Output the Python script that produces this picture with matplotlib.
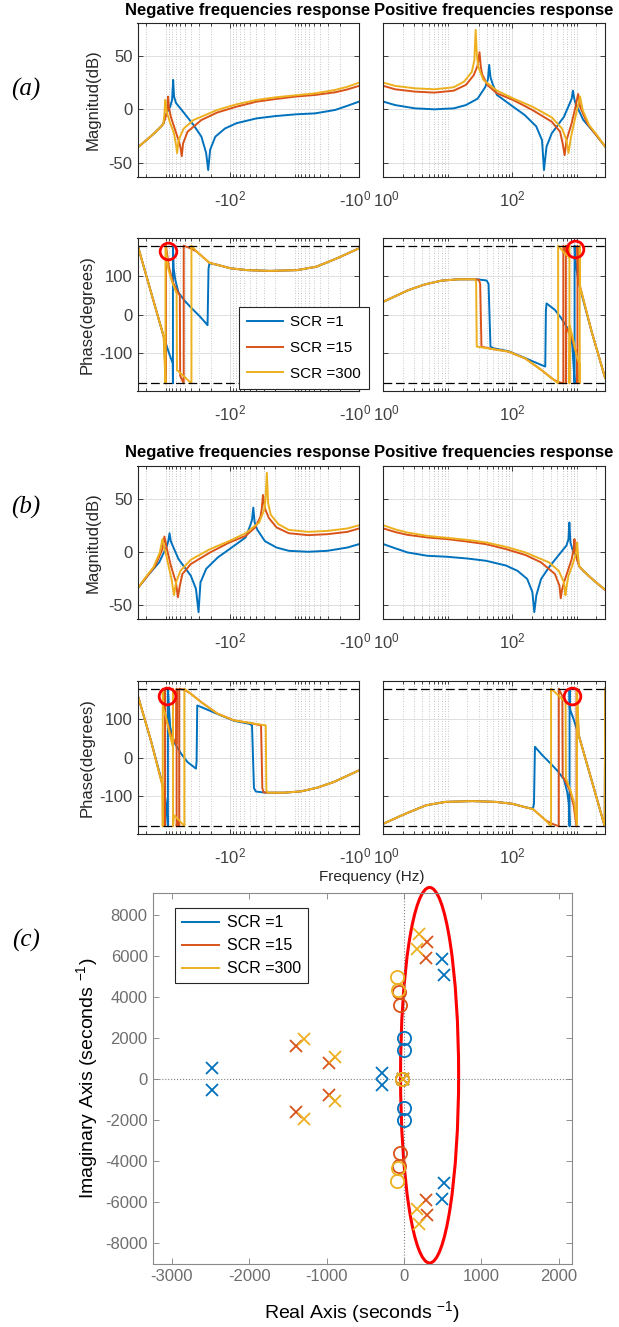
import numpy as np
import matplotlib
matplotlib.use('Agg')
import matplotlib.pyplot as plt
from matplotlib.patches import Ellipse
from matplotlib.ticker import LogLocator, NullFormatter
from matplotlib.transforms import ScaledTranslation

plt.rcParams['font.family'] = ['Liberation Sans', 'DejaVu Sans']
plt.rcParams['mathtext.fontset'] = 'custom'
plt.rcParams['mathtext.rm'] = 'Liberation Sans'
plt.rcParams['mathtext.it'] = 'Liberation Sans:italic'
plt.rcParams['mathtext.bf'] = 'Liberation Sans:bold'
plt.rcParams['axes.unicode_minus'] = False

labels = ['SCR =1', 'SCR =15', 'SCR =300']
colors = ['#0072BD', '#D95319', '#EDB120']

# ---------------- case (a) magnitude, x = log10(|f| / Hz) ----------------
# negative frequencies (left panel)
mag_neg_lf_1 = [3.44, 3.30, 3.18, 3.085, 3.037, 3.0, 2.93, 2.90, 2.884, 2.87, 2.84, 2.78, 2.69, 2.567,
                2.445, 2.372, 2.34, 2.31, 2.23, 2.08, 1.90, 1.59, 1.29, 0.98, 0.68, 0.37, 0.19, 0.0]
mag_neg_db_1 = [-36, -29, -22.6, -17, -13.8, -5.3, 2.5, 9, 27.6, 12, 6, 1.5, -5.3, -14.7,
                -25.7, -41, -57, -38, -25.7, -18, -13, -8.5, -6.3, -4.7, -3.8, -0.6, 3.1, 7.2]
mag_neg_lf_15 = [3.44, 3.30, 3.18, 3.085, 3.037, 3.006, 2.975, 2.963, 2.95, 2.92, 2.86, 2.80, 2.77,
                 2.75, 2.73, 2.66, 2.445, 2.20, 1.90, 1.59, 1.29, 0.98, 0.68, 0.37, 0.19, 0.0]
mag_neg_db_15 = [-36, -29, -22.6, -17, -13.8, -8, -1, 12, 2, -7, -18, -29, -36,
                 -44, -32, -21, -10, -3, 2.5, 7.2, 9.7, 12, 13.5, 16, 18.5, 22]
mag_neg_lf_300 = [3.44, 3.30, 3.18, 3.085, 3.037, 3.02, 3.006, 2.99, 2.976, 2.93, 2.87, 2.835, 2.823,
                  2.80, 2.72, 2.567, 2.20, 1.90, 1.59, 1.29, 0.98, 0.68, 0.37, 0.19, 0.0]
mag_neg_db_300 = [-36, -29, -22.6, -17, -13.8, -5, 8.8, 0, -3.8, -13, -22.6, -35, -41,
                  -29, -18, -10, -0.6, 4.7, 8.8, 11.3, 13.2, 15, 18.2, 21, 25]
# positive frequencies (right panel)
mag_pos_lf_1 = [0.0, 0.18, 0.49, 0.79, 1.09, 1.28, 1.46, 1.58, 1.62, 1.64, 1.66, 1.69, 1.76, 2.01, 2.19,
                2.37, 2.46, 2.49, 2.53, 2.61, 2.80, 2.89, 2.92, 2.94, 2.96, 2.98, 3.10, 3.28, 3.44]
mag_pos_db_1 = [7.2, 4, 0.9, 0, 0.9, 4, 10, 21, 28, 41.7, 30, 24.5, 13.5, 2.5, -5.3,
                -16, -29, -57, -35, -22.6, -7, 5.6, 10, 17.5, 10, 5.6, -10, -22.6, -35]
mag_pos_lf_15 = [0.0, 0.18, 0.49, 0.79, 1.09, 1.28, 1.40, 1.46, 1.49, 1.51, 1.53, 1.61, 1.76, 2.01,
                 2.31, 2.61, 2.74, 2.78, 2.81, 2.84, 2.92, 2.98, 3.02, 3.05, 3.16, 3.28, 3.44]
mag_pos_db_15 = [22, 18.8, 16.6, 15.7, 17.5, 23, 32, 41, 53.6, 40, 33, 23, 15, 8.8,
                 -0.6, -11.6, -21, -32, -43, -29, -13, 2.5, 14.4, 2.5, -13, -22.6, -35]
mag_pos_lf_300 = [0.0, 0.18, 0.49, 0.79, 1.09, 1.25, 1.37, 1.41, 1.43, 1.45, 1.47, 1.55, 1.76, 2.01,
                  2.31, 2.61, 2.77, 2.84, 2.87, 2.91, 2.99, 3.05, 3.09, 3.19, 3.31, 3.44]
mag_pos_db_300 = [25, 22, 19.7, 18.8, 20.7, 26, 35, 46, 74.6, 50, 40, 27.6, 17.5, 10.3,
                  2.5, -7.5, -18, -29, -41, -25.7, -3.8, 12, -0.6, -14.7, -24, -35]

# ---------------- case (a) phase (deg) ----------------
ph_neg_lf_1 = [3.44, 3.433, 3.237, 3.03, 2.95, 2.89, 2.887, 2.887, 2.875, 2.85, 2.80, 2.70, 2.60,
               2.47, 2.38, 2.35, 2.335, 2.32, 2.20, 2.0, 1.74, 1.38, 0.96, 0.66, 0.34, 0.0]
ph_neg_deg_1 = [-180, 180, 64, -58, -100, -128, -180, 180, 120, 90, 57, 35, 17,
                -5, -22, -28, 120, 134, 130, 121, 116, 114, 116, 125, 147, 173]
ph_neg_lf_15 = [3.44, 3.433, 3.237, 3.03, 2.995, 2.995, 2.95, 2.89, 2.80, 2.78, 2.775, 2.72, 2.72,
                2.60, 2.515, 2.32, 2.20, 2.0, 1.74, 1.38, 0.96, 0.66, 0.34, 0.0]
ph_neg_deg_15 = [-180, 180, 64, -58, -180, 180, 125, 85, 55, 50, -160, -180, 180,
                 172, 164, 135, 130, 121, 116, 114, 116, 125, 147, 173]
ph_neg_lf_300 = [3.44, 3.433, 3.237, 3.03, 3.003, 3.003, 2.96, 2.90, 2.83, 2.825, 2.60, 2.60,
                 2.515, 2.32, 2.20, 2.0, 1.74, 1.38, 0.96, 0.66, 0.34, 0.0]
ph_neg_deg_300 = [-180, 180, 64, -58, -180, 180, 120, 85, 55, -145, -180, 180,
                  164, 135, 130, 121, 116, 114, 116, 125, 147, 173]

ph_pos_lf_1 = [0.0, 0.39, 0.65, 0.90, 1.16, 1.42, 1.5, 1.6, 1.63, 1.66, 1.70, 1.94, 2.20, 2.45, 2.51,
               2.52, 2.53, 2.66, 2.76, 2.87, 2.93, 2.955, 2.965, 2.965, 2.99, 3.02, 3.05, 3.23, 3.437]
ph_pos_deg_1 = [33.6, 64, 79, 88.5, 92, 92, 91, 89, 80, -84, -88, -96, -114, -132, -136,
                10, 29, 12, -10, -40, -80, -150, -180, 180, 125, 90, 68, -45, -165]
ph_pos_lf_15 = [0.0, 0.39, 0.65, 0.90, 1.16, 1.42, 1.48, 1.50, 1.52, 1.68, 1.94, 2.20, 2.45, 2.62,
                2.70, 2.79, 2.79, 2.82, 2.83, 2.83, 2.835, 2.87, 2.92, 2.99, 3.005, 3.01, 3.01,
                3.02, 3.05, 3.23, 3.437]
ph_pos_deg_15 = [33.6, 64, 79, 88.5, 92, 92, 91, 80, -84, -90, -97, -115, -145, -168,
                 -176, -180, 180, 165, 180, -180, -35, -45, -60, -100, -115, -180, 180,
                 95, 73, -45, -165]
ph_pos_lf_300 = [0.0, 0.39, 0.65, 0.90, 1.16, 1.42, 1.437, 1.447, 1.68, 1.94, 2.20, 2.45, 2.71, 2.71,
                 2.80, 2.87, 2.885, 2.885, 2.89, 2.95, 3.0, 3.04, 3.045, 3.045, 3.05, 3.23, 3.437]
ph_pos_deg_300 = [33.6, 64, 79, 88.5, 92, 92, 85, -84, -90, -97, -115, -145, -180, 180,
                  162, 151, 180, -180, -29, -70, -110, -130, -180, 180, 73, -45, -165]

# red circles on the phase plots (log10 |f|, deg)
circ_a = [(2.964, 167), (2.97, 170)]
circ_b = [(2.98, 162), (2.93, 162)]

# ---------------- (c) pole-zero map ----------------
pole_re_1 = [-2480, -2480, -280, -280, 490, 490, 515, 515, -15]
pole_im_1 = [530, -530, 290, -290, 5840, -5840, 5080, -5080, 0]
zero_re_1 = [-5, -5, -5, -5, -30]
zero_im_1 = [2000, 1420, -1420, -2000, 0]
pole_re_15 = [-1390, -1390, -970, -970, 300, 300, 280, 280, -15]
pole_im_15 = [1600, -1600, 770, -770, 6650, -6650, 5900, -5900, 0]
zero_re_15 = [-55, -55, -60, -60, -30]
zero_im_15 = [3620, -3620, 4240, -4240, 0]
pole_re_300 = [-1290, -1290, -890, -890, 190, 190, 170, 170, -15]
pole_im_300 = [1940, -1940, 1070, -1070, 7050, -7050, 6350, -6350, 0]
zero_re_300 = [-80, -80, -85, -85, -30]
zero_im_300 = [4340, -4340, 4970, -4970, 0]

W, H = 619, 1327
fig = plt.figure(figsize=(W / 100, H / 100), dpi=100)


def px_axes(x0, y0, x1, y1):
    return fig.add_axes([x0 / W, 1 - y1 / H, (x1 - x0) / W, (y1 - y0) / H])


cols = [(137.5, 359), (383.5, 605)]
rows = [(23, 177), (238, 391), (466, 619), (681, 834)]


def bode_axes(row, col, kind):
    ax = px_axes(cols[col][0], rows[row][0], cols[col][1], rows[row][1])
    ax.set_xscale('log')
    if col == 0:
        ax.set_xlim(10 ** 3.437, 1)
        ax.set_xticks([1, 100])
        ax.set_xticklabels([r'$\text{-}10^{0}$', r'$\text{-}10^{2}$'])
    else:
        ax.set_xlim(1, 10 ** 3.437)
        ax.set_xticks([1, 100])
        ax.set_xticklabels(['$10^{0}$', '$10^{2}$'])
    ax.xaxis.set_minor_locator(LogLocator(base=10, subs=np.arange(1, 10), numticks=30))
    ax.xaxis.set_minor_formatter(NullFormatter())
    if kind == 'mag':
        ax.set_ylim(-63.5, 81)
        ax.set_yticks([-50, 0, 50])
    else:
        ax.set_ylim(-200, 200)
        ax.set_yticks([-100, 0, 100])
    ax.grid(True, which='major', color='#dedede', lw=0.7)
    ax.grid(True, which='minor', axis='x', color='#b5b5b5', lw=0.6, ls=(0, (1, 2)))
    ax.set_axisbelow(True)
    ax.tick_params(which='both', direction='in', top=True, right=True, color='#262626', width=0.6)
    ax.tick_params(labelcolor='#404040', labelsize=12)
    ax.tick_params(which='major', length=3.5)
    ax.tick_params(which='minor', length=2)
    ax.tick_params(axis='x', pad=9)
    if col == 1:
        ax.tick_params(labelleft=False)
    for s in ax.spines.values():
        s.set_color('#262626')
        s.set_linewidth(0.8)
    # keep the two 10^0 labels at the panel junction from running into each other
    lab = ax.xaxis.get_major_ticks()[0].label1
    shift = -4 if col == 0 else 3
    lab.set_transform(lab.get_transform() + ScaledTranslation(shift / 100, 0, fig.dpi_scale_trans))
    return ax


mag_neg = [(mag_neg_lf_1, mag_neg_db_1), (mag_neg_lf_15, mag_neg_db_15), (mag_neg_lf_300, mag_neg_db_300)]
mag_pos = [(mag_pos_lf_1, mag_pos_db_1), (mag_pos_lf_15, mag_pos_db_15), (mag_pos_lf_300, mag_pos_db_300)]
ph_neg = [(ph_neg_lf_1, ph_neg_deg_1), (ph_neg_lf_15, ph_neg_deg_15), (ph_neg_lf_300, ph_neg_deg_300)]
ph_pos = [(ph_pos_lf_1, ph_pos_deg_1), (ph_pos_lf_15, ph_pos_deg_15), (ph_pos_lf_300, ph_pos_deg_300)]

# case (b) is the conjugate system: the negative and positive sides swap,
# magnitude identical, phase with opposite sign
panels = [
    (0, 0, 'mag', mag_neg, 1), (0, 1, 'mag', mag_pos, 1),
    (1, 0, 'ph', ph_neg, 1), (1, 1, 'ph', ph_pos, 1),
    (2, 0, 'mag', mag_pos, 1), (2, 1, 'mag', mag_neg, 1),
    (3, 0, 'ph', ph_pos, -1), (3, 1, 'ph', ph_neg, -1),
]

axes = {}
for row, col, kind, curves, sign in panels:
    ax = bode_axes(row, col, kind)
    axes[(row, col)] = ax
    for (lf, val), c in zip(curves, colors):
        ax.plot(10 ** np.array(lf), sign * np.array(val), color=c, lw=1.4)
    if kind == 'ph':
        ax.axhline(180, color='k', lw=0.9, ls=(0, (7, 3)))
        ax.axhline(-180, color='k', lw=0.9, ls=(0, (7, 3)))
        circ = circ_a[col] if row == 1 else circ_b[col]
        ax.plot(10 ** circ[0], circ[1], 'o', ms=12, mfc='none', mec='red', mew=2, clip_on=False)

# legend in (a) phase
leg = axes[(1, 0)].legend(axes[(1, 0)].lines[:3], labels, loc='upper left',
                          bbox_to_anchor=(239 / W, 1 - 307 / H), bbox_transform=fig.transFigure,
                          fontsize=11, handlelength=2.3, handletextpad=0.5,
                          labelspacing=0.76, borderaxespad=0, borderpad=0.55,
                          fancybox=False, framealpha=1, edgecolor='#262626')
leg.get_frame().set_linewidth(0.8)

# titles, labels
for y in (11, 453):
    fig.text(248 / W, 1 - y / H, 'Negative frequencies response', ha='center', va='center',
             fontsize=12, fontweight='bold')
    fig.text(494 / W, 1 - y / H, 'Positive frequencies response', ha='center', va='center',
             fontsize=12, fontweight='bold')
for r in (0, 2):
    fig.text(93 / W, 1 - (rows[r][0] + rows[r][1]) / 2 / H, 'Magnitud(dB)', rotation=90,
             ha='center', va='center', fontsize=12, color='#262626')
for r in (1, 3):
    fig.text(87 / W, 1 - (rows[r][0] + rows[r][1]) / 2 / H, 'Phase(degrees)', rotation=90,
             ha='center', va='center', fontsize=12, color='#262626')
fig.text(372 / W, 1 - 877 / H, 'Frequency (Hz)', ha='center', va='center', fontsize=11, color='#262626')

for txt, y in (('(a)', 89), ('(b)', 507), ('(c)', 940)):
    fig.text(26 / W, 1 - y / H, txt, ha='center', va='center', fontsize=18,
             family='Liberation Serif', style='italic')

# ---------------- pole-zero map ----------------
axp = px_axes(152.5, 893, 572, 1264)
axp.axhline(0, color='#808080', lw=0.8, ls=':')
axp.axvline(0, color='#808080', lw=0.8, ls=':')
pz = [(pole_re_1, pole_im_1, zero_re_1, zero_im_1),
      (pole_re_15, pole_im_15, zero_re_15, zero_im_15),
      (pole_re_300, pole_im_300, zero_re_300, zero_im_300)]
handles = []
for (pr, pi, zr, zi), c, lab in zip(pz, colors, labels):
    axp.plot(zr, zi, 'o', ms=9.5, mfc='none', mec=c, mew=1.3, ls='none')
    axp.plot(pr, pi, 'x', ms=8, mec=c, mew=1.3, ls='none')
    h, = axp.plot([], [], color=c, lw=1.4, label=lab)
    handles.append(h)
axp.add_patch(Ellipse((330, 180), width=750, height=18300, fill=False, ec='red', lw=2.2, clip_on=False))
axp.set_xlim(-3250, 2170)
axp.set_ylim(-9020, 9060)
axp.set_xticks(np.arange(-3000, 2001, 1000))
axp.set_yticks(np.arange(-8000, 8001, 2000))
axp.tick_params(which='both', direction='in', top=True, right=True, color='#808080', width=0.6,
                length=4, labelcolor='#6e6e6e', labelsize=12)
for s in axp.spines.values():
    s.set_color('#8a8a8a')
    s.set_linewidth(0.8)
fig.text(362 / W, 1 - 1312 / H, 'Real Axis (seconds $^{-1}$)', ha='center', va='center', fontsize=14)
fig.text(87 / W, 1 - 1078 / H, 'Imaginary Axis (seconds $^{-1}$)', ha='center', va='center',
         fontsize=14, rotation=90)
lg = axp.legend(handles=handles, loc='upper left', bbox_to_anchor=(175 / W, 1 - 908 / H),
                bbox_transform=fig.transFigure, fontsize=11.5,
                handlelength=2.3, handletextpad=0.5, labelspacing=0.5, borderpad=0.45,
                borderaxespad=0, fancybox=False, framealpha=1, edgecolor='#262626')
lg.get_frame().set_linewidth(0.8)

fig.savefig('out.png', dpi=100)
